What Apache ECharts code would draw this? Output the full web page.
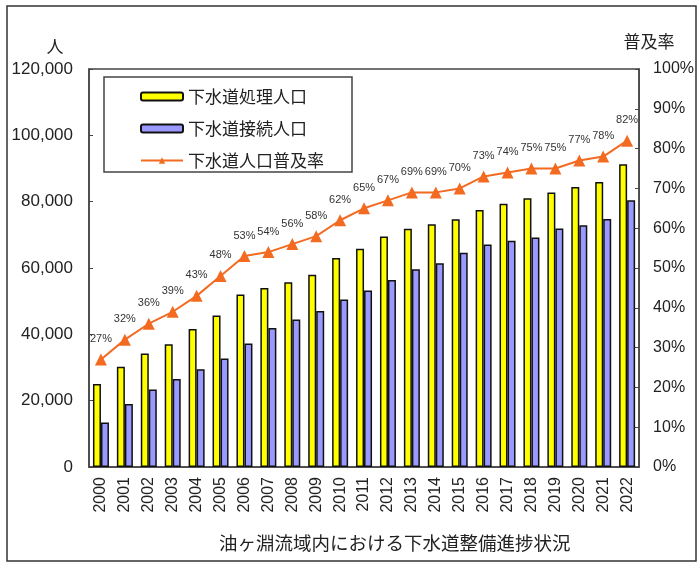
<!DOCTYPE html>
<html><head><meta charset="utf-8">
<script src="https://cdn.jsdelivr.net/npm/echarts@6/dist/echarts.min.js"></script>
<style>html,body{margin:0;padding:0;background:#fff}#c{width:697px;height:563px}</style>
</head><body><div id="c"></div>
<script>
var years = ['2000','2001','2002','2003','2004','2005','2006','2007','2008','2009','2010','2011','2012','2013','2014','2015','2016','2017','2018','2019','2020','2021','2022'];
var treated = [25000,30200,34200,37000,41600,45700,52000,54000,55700,58000,63000,65800,69500,71800,73200,74700,77500,79400,81000,82800,84400,85900,91300];
var connected = [13400,19000,23400,26500,29500,32700,37200,41900,44500,47000,50500,53200,56400,59600,61400,64600,67100,68200,69200,71900,72900,74800,80400];
var rate = [27,32,36,39,43,48,53,54,56,58,62,65,67,69,69,70,73,74,75,75,77,78,82];
var leftTicks = [0,20000,40000,60000,80000,100000,120000];

var jp = '"Noto Sans CJK JP", sans-serif';
var num = '"Liberation Sans", Arial, sans-serif';
var chart = echarts.init(document.getElementById('c'));
chart.setOption({
  animation: false,
  backgroundColor: '#fff',
  grid: {left: 89, right: 51, top: 69, bottom: 96, show: true, borderColor: '#444', borderWidth: 1.5},
  title: {text: '油ヶ淵流域内における下水道整備進捗状況', left: 214, top: 529,
    textStyle: {fontFamily: jp, fontSize: 18.5, fontWeight: 'normal', color: '#222'}},
  legend: {
    orient: 'vertical', left: 135, top: 83, itemWidth: 42, itemHeight: 8, itemGap: 15,
    textStyle: {fontFamily: jp, fontSize: 17, color: '#222', padding: [0,0,0,0]},
    data: ['下水道処理人口','下水道接続人口','下水道人口普及率']
  },
  xAxis: {
    type: 'category', data: years,
    axisLine: {lineStyle: {color: '#444', width: 1.5}},
    axisTick: {inside: true, length: 3, lineStyle: {color: '#444'}},
    axisLabel: {rotate: 90, margin: 10, fontFamily: num, fontSize: 16, color: '#222'}
  },
  yAxis: [{
    type: 'value', min: 0, max: 120000, interval: 20000,
    name: '人', nameLocation: 'end', nameGap: 14, nameTextStyle: {fontFamily: jp, fontSize: 17, color: '#222', padding: [0,0,0,-68]},
    splitLine: {show: false},
    axisLine: {show: true, lineStyle: {color: '#444', width: 1.5}},
    axisTick: {show: true, inside: true, length: 4, lineStyle: {color: '#444'}},
    axisLabel: {margin: 16, fontFamily: num, fontSize: 17, color: '#222',
      formatter: function(v){ return v.toLocaleString('en-US'); }}
  },{
    type: 'value', min: 0, max: 100, interval: 10, position: 'right',
    name: '普及率', nameLocation: 'end', nameGap: 19, nameTextStyle: {fontFamily: jp, fontSize: 17, color: '#222', padding: [0,0,0,20]},
    splitLine: {show: false},
    axisLine: {show: true, lineStyle: {color: '#444', width: 1.5}},
    axisTick: {show: true, inside: true, length: 4, lineStyle: {color: '#444'}},
    axisLabel: {margin: 14, fontFamily: num, fontSize: 16, color: '#222', formatter: '{value}%'}
  }],
  series: [{
    name: '下水道処理人口', type: 'bar', data: treated, barWidth: 8, barGap: '0%',
    itemStyle: {color: '#ffff00', borderColor: '#111', borderWidth: 1.5}
  },{
    name: '下水道接続人口', type: 'bar', data: connected, barWidth: 8,
    itemStyle: {color: '#9999ff', borderColor: '#111', borderWidth: 1.5}
  },{
    name: '下水道人口普及率', type: 'line', yAxisIndex: 1, data: rate,
    symbol: 'triangle', symbolSize: 12,
    lineStyle: {color: '#f26b21', width: 2},
    itemStyle: {color: '#f26b21'},
    label: {show: true, position: 'top', distance: 9, formatter: '{c}%', fontFamily: num, fontSize: 11, color: '#333'}
  }],
  graphic: [
    {type: 'rect', shape: {x: 104, y: 77, width: 248, height: 95}, style: {fill: 'none', stroke: '#444', lineWidth: 1.5}, z: 0},
    {type: 'rect', shape: {x: 7, y: 6, width: 689, height: 555}, style: {fill: 'none', stroke: '#333', lineWidth: 1.5}, silent: true}
  ]
});
</script></body></html>
